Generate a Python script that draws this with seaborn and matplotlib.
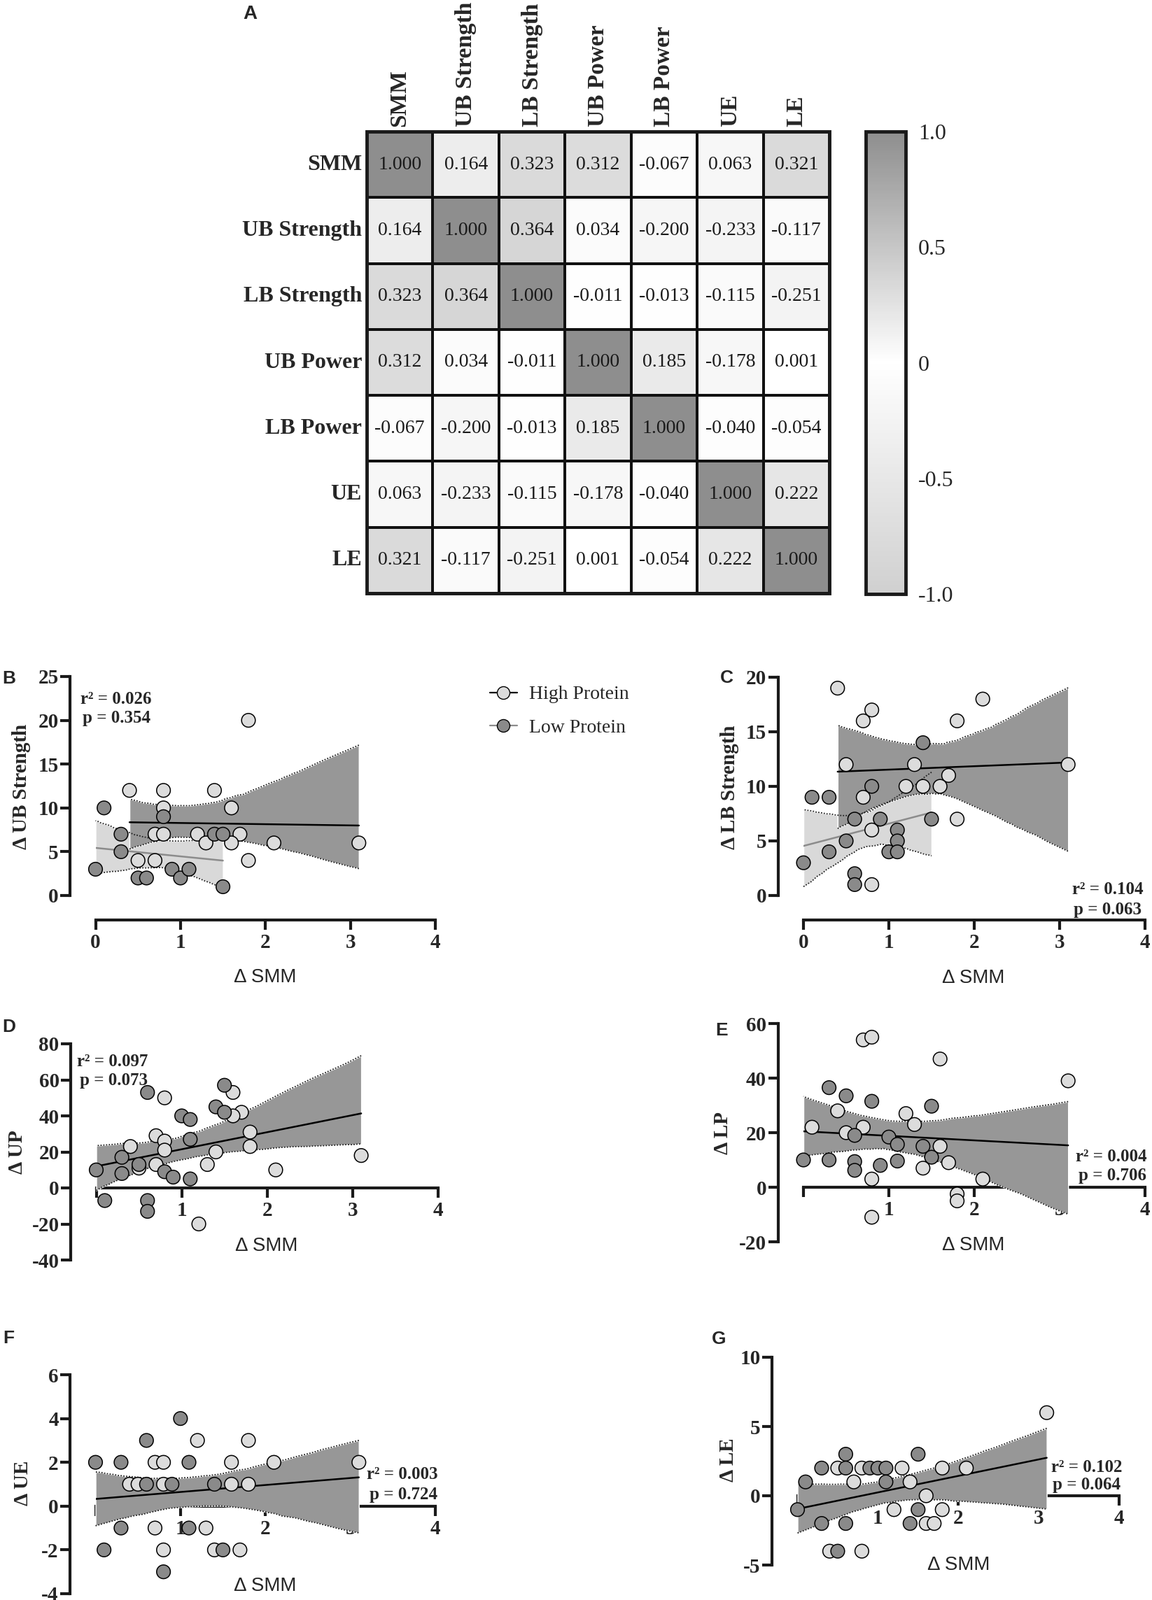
import numpy as np
import pandas as pd
import seaborn as sns
import matplotlib.pyplot as plt
from matplotlib.colors import LinearSegmentedColormap
from matplotlib.lines import Line2D
from matplotlib.patches import Rectangle

W, H = 1646, 2287

# correlation matrix (panel A)
variables = ["SMM", "UB Strength", "LB Strength", "UB Power", "LB Power", "UE", "LE"]
corr_values = [
    [1.000, 0.164, 0.323, 0.312, -0.067, 0.063, 0.321],
    [0.164, 1.000, 0.364, 0.034, -0.200, -0.233, -0.117],
    [0.323, 0.364, 1.000, -0.011, -0.013, -0.115, -0.251],
    [0.312, 0.034, -0.011, 1.000, 0.185, -0.178, 0.001],
    [-0.067, -0.200, -0.013, 0.185, 1.000, -0.040, -0.054],
    [0.063, -0.233, -0.115, -0.178, -0.040, 1.000, 0.222],
    [0.321, -0.117, -0.251, 0.001, -0.054, 0.222, 1.000],
]
cbar_ticks = [-1.0, -0.5, 0.0, 0.5, 1.0]
cbar_labels = ["-1.0", "-0.5", "0", "0.5", "1.0"]

# scatter data: delta SMM (x) vs delta outcome (y), per group
b_high_x = [0.4, 0.8, 1.4, 1.8, 0.8, 1.6, 0.7, 0.8, 1.2, 1.7, 1.3, 1.6, 2.1, 3.1, 1.8, 0.5, 0.7]
b_high_y = [12, 12, 12, 20, 10, 10, 7, 7, 7, 7, 6, 6, 6, 6, 4, 4, 4]
b_low_x = [0.1, 0.3, 0.3, 0.0, 0.5, 0.6, 0.9, 1.0, 1.1, 1.5, 0.8, 1.4, 1.5]
b_low_y = [10, 7, 5, 3, 2, 2, 3, 2, 3, 1, 9, 7, 7]

c_high_x = [0.4, 2.1, 0.8, 0.7, 1.8, 0.5, 1.3, 3.1, 1.7, 1.2, 1.4, 1.6, 0.7, 1.8, 0.8, 0.8]
c_high_y = [19, 18, 17, 16, 16, 12, 12, 12, 11, 10, 10, 10, 9, 7, 6, 1]
c_low_x = [1.4, 0.8, 0.1, 0.3, 0.6, 0.9, 1.5, 1.1, 0.5, 1.1, 0.3, 1.0, 1.1, 0.0, 0.6, 0.6]
c_low_y = [14, 10, 9, 9, 7, 7, 7, 6, 5, 5, 4, 4, 4, 3, 2, 1]

d_high_x = [0.8, 1.6, 1.7, 1.6, 0.7, 0.8, 0.8, 0.4, 1.8, 1.8, 1.4, 0.5, 0.7, 1.3, 2.1, 3.1, 1.2]
d_high_y = [50, 53, 42, 40, 29, 26, 21, 23, 31, 23, 20, 11, 13, 13, 10, 18, -20]
d_low_x = [0.6, 1.5, 1.4, 1.5, 1.0, 1.1, 1.1, 0.3, 0.5, 0.3, 0.0, 0.8, 0.9, 1.1, 0.1, 0.6, 0.6]
d_low_y = [53, 57, 45, 42, 40, 38, 27, 17, 13, 8, 10, 9, 6, 5, -7, -7, -13]

e_high_x = [0.7, 0.8, 1.6, 3.1, 0.4, 1.2, 1.3, 0.1, 0.7, 0.5, 1.6, 1.4, 1.7, 0.8, 2.1, 1.8, 1.8, 0.8]
e_high_y = [54, 55, 47, 39, 28, 27, 23, 22, 22, 20, 15, 7, 9, 3, 3, -2.5, -5, -11]
e_low_x = [0.3, 0.5, 0.8, 1.5, 0.6, 1.0, 1.1, 1.4, 1.5, 0.0, 0.3, 0.6, 0.6, 0.9, 1.1]
e_low_y = [36.5, 33.5, 31.5, 29.7, 19, 18.4, 15.7, 15, 11, 10, 10, 9.4, 6.2, 8, 9.6]

f_high_x = [0.7, 0.8, 1.6, 2.1, 3.1, 1.2, 1.8, 0.4, 0.5, 0.8, 1.6, 1.8, 0.7, 1.3, 0.8, 1.4, 1.7]
f_high_y = [2, 2, 2, 2, 2, 3, 3, 1, 1, 1, 1, 1, -1, -1, -2, -2, -2]
f_low_x = [0.0, 0.3, 1.1, 0.6, 1.0, 0.6, 0.9, 1.4, 0.3, 1.1, 0.1, 1.5, 0.8]
f_low_y = [2, 2, 2, 3, 4, 1, 1, 1, -1, -1, -2, -2, -3]

g_high_x = [3.1, 0.5, 0.8, 1.3, 1.8, 2.1, 0.7, 1.4, 1.6, 1.2, 1.8, 1.6, 1.7, 0.4, 0.8]
g_high_y = [6, 2, 2, 2, 2, 2, 1, 1, 0, -1, -1, -2, -2, -4, -4]
g_low_x = [0.1, 0.3, 0.6, 0.6, 0.9, 1.0, 1.1, 1.1, 1.5, 0.0, 0.3, 0.6, 1.4, 1.5, 0.5]
g_low_y = [1, 2, 3, 2, 2, 2, 2, 1, 3, -1, -2, -2, -2, -1, -4]

groups = ["High Protein", "Low Protein"]
x_ticks = [0, 1, 2, 3, 4]

LIGHT = "#dcdcdc"
DARK = "#8a8a8a"
BAND_DARK = "#979797"
BAND_LIGHT = "#d9d9d9"
LOW_LINE = "#8c8c8c"

sns.set_style("ticks")
plt.rcParams["font.family"] = ["Liberation Serif", "DejaVu Serif"]
SANS = ["Liberation Sans", "DejaVu Sans"]


def rect(x0, y0, x1, y1):
    return [x0 / W, 1 - y1 / H, (x1 - x0) / W, (y1 - y0) / H]


def fx(x):
    return x / W


def fy(y):
    return 1 - y / H


fig = plt.figure(figsize=(W / 100, H / 100), dpi=100)

# ---- panel A: correlation heatmap
gray_map = LinearSegmentedColormap.from_list("grey_div", ["#d0d0d0", "#ffffff", "#8e8e8e"])
corr_df = pd.DataFrame(corr_values, index=variables, columns=variables)
ax_h = fig.add_axes(rect(524, 188, 1185, 848))
ax_c = fig.add_axes(rect(1237, 188, 1294, 849))
sns.heatmap(corr_df, ax=ax_h, cbar_ax=ax_c, cmap=gray_map, vmin=-1, vmax=1,
            annot=True, fmt=".3f", annot_kws={"fontsize": 20, "color": "#1a1a1a"},
            linewidths=1.5, linecolor="#111111")
ax_h.xaxis.tick_top()
ax_h.set_xticklabels(variables, rotation=90, fontweight="bold", fontsize=24)
ax_h.set_yticklabels(variables, rotation=0, fontweight="bold", fontsize=23)
ax_h.tick_params(length=0, pad=5)
ax_h.set_xlabel("")
ax_h.set_ylabel("")
ax_h.add_patch(Rectangle((0, 0), len(variables), len(variables), fill=False,
                         lw=3.5, edgecolor="#1a1a1a", clip_on=False))
cbar = ax_h.collections[0].colorbar
cbar.outline.set_linewidth(3.5)
cbar.outline.set_edgecolor("#1a1a1a")
cbar.set_ticks(cbar_ticks)
cbar.set_ticklabels(cbar_labels)
ax_c.tick_params(labelsize=23, direction="in", length=6, width=2.5,
                 left=True, right=True, pad=13)
fig.text(fx(357), fy(20), "A", family=SANS, fontweight="bold", fontsize=20,
         ha="center", va="center")


def add_fit(ax, x, y, line_color, band_color):
    n_coll = len(ax.collections)
    sns.regplot(x=np.array(x), y=np.array(y), ax=ax, scatter=False, ci=95, seed=0,
                color=line_color, line_kws={"lw": 1.8, "zorder": 3.6})
    line = ax.lines[-1]
    band = ax.collections[n_coll]
    band.set_facecolor(band_color)
    band.set_alpha(1)
    band.set_zorder(3)
    band.set_clip_on(False)
    n = len(line.get_xdata())
    verts = band.get_paths()[0].vertices
    for part in (verts[1:n + 1], verts[n + 2:2 * n + 2]):
        ax.plot(part[:, 0], part[:, 1], color="#222222", lw=1.3,
                ls=(0, (1, 1.2)), zorder=3.2, clip_on=False)


def scatter_panel(box, hx, hy, lx, ly, ylim, yticks, split_fit, zero_axis):
    ax = fig.add_axes(rect(*box))
    df = pd.DataFrame({
        "smm": hx + lx,
        "val": hy + ly,
        "group": [groups[0]] * len(hx) + [groups[1]] * len(lx),
    })
    if split_fit:
        add_fit(ax, lx, ly, LOW_LINE, BAND_LIGHT)
        add_fit(ax, hx, hy, "black", BAND_DARK)
    else:
        add_fit(ax, hx + lx, hy + ly, "black", BAND_DARK)
    sns.scatterplot(data=df, x="smm", y="val", hue="group", ax=ax,
                    palette={groups[0]: LIGHT, groups[1]: DARK},
                    s=200, edgecolor="black", linewidth=1.1, legend=False,
                    zorder=4, clip_on=False)
    ax.set_xlim(0, 4)
    ax.set_ylim(*ylim)
    ax.set_xticks(x_ticks)
    ax.set_yticks(yticks)
    if zero_axis:
        ax.spines["bottom"].set_position(("data", 0))
        ax.set_xticklabels([""] + [str(t) for t in x_ticks[1:]])
    else:
        ax.spines["bottom"].set_position(("outward", 25))
        ax.set_xticklabels([str(t) for t in x_ticks])
    ax.set_yticklabels([str(t) for t in yticks])
    ax.spines["left"].set_position(("outward", 26))
    ax.spines["bottom"].set_bounds(0, 4)
    for side in ("top", "right"):
        ax.spines[side].set_visible(False)
    for side in ("left", "bottom"):
        ax.spines[side].set_linewidth(3)
        ax.spines[side].set_color("#1a1a1a")
    ax.tick_params(axis="both", direction="out", length=10, width=3,
                   color="#1a1a1a", labelsize=21)
    ax.tick_params(axis="y", pad=2)
    ax.tick_params(axis="x", pad=4)
    for lab in ax.get_xticklabels() + ax.get_yticklabels():
        lab.set_fontweight("bold")
    ax.set_xlabel("")
    ax.set_ylabel("")
    ax.patch.set_alpha(0)
    return ax


def panel_text(letter, letter_xy, ylabel, ylabel_xy, xlabel_xy, r2, p, r2_xy, p_xy, ha):
    fig.text(fx(letter_xy[0]), fy(letter_xy[1]), letter, family=SANS,
             fontweight="bold", fontsize=19, ha="center", va="center")
    fig.text(fx(ylabel_xy[0]), fy(ylabel_xy[1]), ylabel, rotation=90,
             fontweight="bold", fontsize=21, ha="center", va="center")
    fig.text(fx(xlabel_xy[0]), fy(xlabel_xy[1]), "\u0394 SMM", family=SANS,
             fontsize=20, ha="center", va="center")
    fig.text(fx(r2_xy[0]), fy(r2_xy[1]), "r\u00b2 = " + r2, fontweight="bold",
             fontsize=18, ha=ha, va="center")
    fig.text(fx(p_xy[0]), fy(p_xy[1]), "p = " + p, fontweight="bold",
             fontsize=18, ha=ha, va="center")


# ---- panel B
scatter_panel((136.5, 967, 622, 1280), b_high_x, b_high_y, b_low_x, b_low_y,
              (0, 25), [0, 5, 10, 15, 20, 25], True, False)
panel_text("B", (13, 970), "\u0394 UB Strength", (31, 1124), (379, 1397),
           "0.026", "0.354", (115, 1000), (118, 1027), "left")

# ---- panel C
scatter_panel((1148, 968, 1636, 1280), c_high_x, c_high_y, c_low_x, c_low_y,
              (0, 20), [0, 5, 10, 15, 20], True, False)
panel_text("C", (1038, 969), "\u0394 LB Strength", (1042, 1125), (1391, 1398),
           "0.104", "0.063", (1634, 1272), (1631, 1300), "right")

# ---- panel D
scatter_panel((137.5, 1492, 626, 1801), d_high_x, d_high_y, d_low_x, d_low_y,
              (-40, 80), [-40, -20, 0, 20, 40, 60, 80], False, True)
panel_text("D", (13, 1468), "\u0394 UP", (24, 1647), (381, 1781),
           "0.097", "0.073", (110, 1517), (114, 1545), "left")

# ---- panel E
scatter_panel((1148, 1463, 1636, 1775), e_high_x, e_high_y, e_low_x, e_low_y,
              (-20, 60), [-20, 0, 20, 40, 60], False, True)
panel_text("E", (1031, 1473), "\u0394 LP", (1032, 1620), (1391, 1780),
           "0.004", "0.706", (1639, 1653), (1638, 1680), "right")

# ---- panel F
scatter_panel((136.5, 1965, 622, 2278), f_high_x, f_high_y, f_low_x, f_low_y,
              (-4, 6), [-4, -2, 0, 2, 4, 6], False, True)
panel_text("F", (12, 1913), "\u0394 UE", (33, 2120), (379, 2267),
           "0.003", "0.724", (626, 2108), (625, 2137), "right")

# ---- panel G
scatter_panel((1139.5, 1940, 1599, 2237), g_high_x, g_high_y, g_low_x, g_low_y,
              (-5, 10), [-5, 0, 5, 10], False, True)
panel_text("G", (1027, 1914), "\u0394 LE", (1040, 2087), (1370, 2237),
           "0.102", "0.064", (1604, 2097), (1601, 2123), "right")

# ---- legend (shared)
handles = [
    Line2D([], [], color="black", lw=1.6, marker="o", markersize=13,
           markerfacecolor=LIGHT, markeredgecolor="black"),
    Line2D([], [], color=LOW_LINE, lw=1.6, marker="o", markersize=13,
           markerfacecolor=DARK, markeredgecolor="black"),
]
fig.legend(handles, groups, loc="upper left", bbox_to_anchor=(fx(700), fy(980)),
           frameon=False, fontsize=20, handlelength=1.4, handletextpad=0.6,
           labelspacing=0.8, borderpad=0, borderaxespad=0)

fig.savefig("out.png", dpi=100)
